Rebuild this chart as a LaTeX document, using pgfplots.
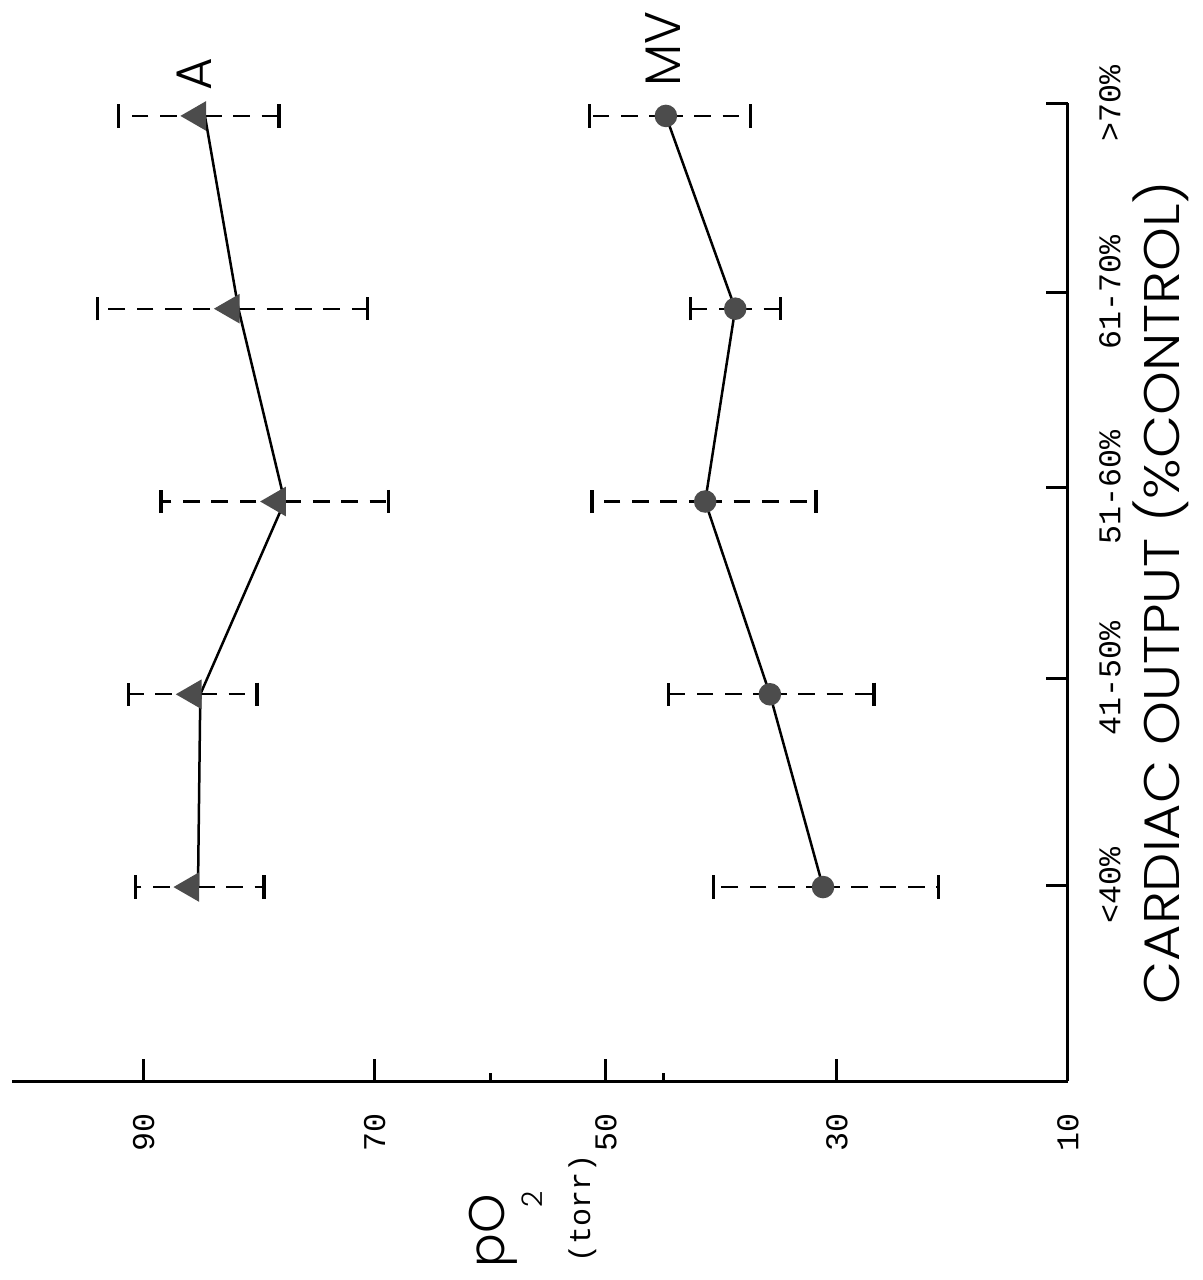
\documentclass[border=0pt]{standalone}
\usepackage{pgfplots}
\pgfplotsset{compat=1.18}
\usepackage{pgfplotstable}
\usepackage{graphicx}
\usepackage{fontspec}
\newfontfamily\monofont{Liberation Mono}
\newfontfamily\geofont{Poppins}[UprightFont=* Light]

% arterial (A) and mixed venous (MV) pO2; ep/em = upper/lower bar length
\pgfplotstableread{
cat val  ep   em
0   85.3 5.4  5.7
1   85.1 6.2  4.9
2   77.8 10.7 9.0
3   81.8 12.2 11.2
4   84.7 7.5  6.4
}\Adata
\pgfplotstableread{
cat val  ep   em
0   31.2 9.5  10.0
1   35.8 8.8  9.0
2   41.4 9.8  9.6
3   38.8 3.9  3.9
4   44.8 6.6  7.3
}\MVdata

\begin{document}
\begin{tikzpicture}
\path[use as bounding box] (-3.6pt,-59.7pt) rectangle (357.3pt,324.3pt);
\begin{axis}[
  at={(0pt,0pt)}, anchor=south west,
  scale only axis, width=316.8pt, height=293.4pt,
  x dir=reverse, xmin=10, xmax=101.4,
  ymin=-1.006, ymax=4.067,
  axis x line=bottom, axis y line=right,
  axis line style={-, line width=0.9pt},
  every outer x axis line/.append style={-},
  every outer y axis line/.append style={-},
  tick align=inside,
  major tick length=6.5pt, minor tick length=2.5pt,
  tick style={line width=0.9pt, black},
  xtick={10,30,50,70,90}, minor xtick={45,60},
  xticklabels={10,30,50,70,90},
  ytick={0.01,1.084,2.075,3.082,4.067},
  yticklabels={{<40\%},{41-50\%},{51-60\%},{61-70\%},{>70\%}},
  xticklabel style={font=\monofont\fontsize{9.5}{10}\selectfont, rotate=90, anchor=center, inner sep=0pt},
  yticklabel style={font=\monofont\fontsize{9.5}{10}\selectfont, rotate=90, anchor=center, inner sep=0pt},
  xticklabel shift=15.3pt, yticklabel shift=12.6pt,
  clip=false,
]
\addplot[black, line width=0.75pt, mark=triangle*, mark size=4.4pt,
  mark options={xshift=-2.2pt, rotate=90, fill=black!70, draw=black!70, solid},
  error bars/.cd, x dir=both, x explicit,
  error bar style={dash pattern=on 5pt off 3.5pt, line width=0.7pt},
  error mark options={solid, rotate=90, mark size=3.5pt, line width=1pt}]
  table[x=val, y=cat, x error plus=ep, x error minus=em] {\Adata};
\addplot[black, line width=0.75pt, mark=*, mark size=3pt,
  mark options={fill=black!70, draw=black!70, solid},
  error bars/.cd, x dir=both, x explicit,
  error bar style={dash pattern=on 5pt off 3.5pt, line width=0.7pt},
  error mark options={solid, rotate=90, mark size=3.5pt, line width=1pt}]
  table[x=val, y=cat, x error plus=ep, x error minus=em] {\MVdata};
\end{axis}
\node[rotate=90, font=\geofont\fontsize{15}{15}\selectfont] at (54.6pt,302.1pt) {A};
\node[rotate=90, font=\geofont\fontsize{15}{15}\selectfont] at (195.3pt,309.6pt) {MV};
\node[rotate=90, inner sep=0pt] at (344.7pt,146.5pt)
  {\resizebox{247pt}{\height}{\geofont\fontsize{15}{15}\selectfont CARDIAC OUTPUT (\%CONTROL)}};
\node[rotate=90, anchor=base west, inner sep=0pt] at (147.9pt,-56.1pt)
  {\geofont\fontsize{15}{15}\selectfont pO};
\node[rotate=90, anchor=base west, inner sep=0pt] at (159.3pt,-38pt)
  {\geofont\fontsize{8.5}{8.5}\selectfont 2};
\node[rotate=90, anchor=base west, inner sep=0pt] at (173.4pt,-54.5pt)
  {\monofont\fontsize{9}{9}\selectfont (torr)};
\end{tikzpicture}
\end{document}
